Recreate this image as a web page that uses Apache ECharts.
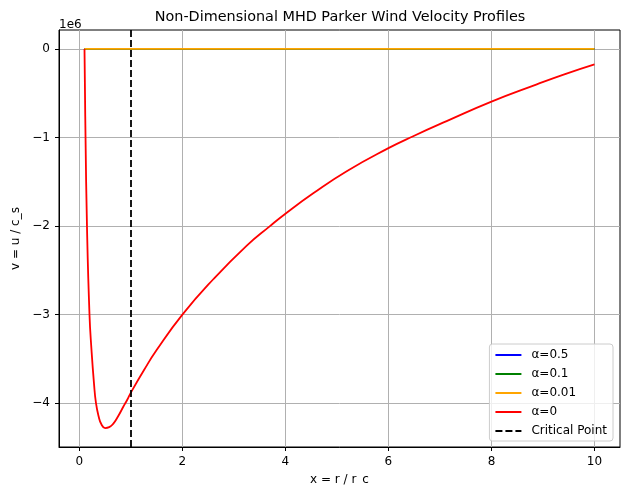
<!DOCTYPE html>
<html>
<head>
<meta charset="utf-8">
<script src="https://cdn.jsdelivr.net/npm/echarts@6/dist/echarts.min.js"></script>
<style>
 html, body { margin: 0; padding: 0; background: #fff; overflow: hidden; }
 #chart { width: 621px; height: 485px; }
</style>
</head>
<body>
<div id="chart"></div>
<script>
// velocities are in units of 1e6 (matches the "1e6" offset label)
var alphaX = [0.1, 10];
var alpha05 = [0, 0];
var alpha01 = [0, 0];
var alpha001 = [0, 0];

var redX = [0.1, 0.11, 0.12, 0.148, 0.197, 0.236, 0.284, 0.323, 0.375, 0.43, 0.5, 0.58, 0.66, 0.75, 0.853, 0.93,
 1.0, 1.25, 1.5, 2.0, 2.6, 3.25, 3.7, 4.0, 4.54, 5.19, 6.0, 6.48, 7.13, 8.0, 8.88, 9.4, 10.0];
var redV = [0, -0.52, -1.0, -2.0, -3.0, -3.4, -3.775, -4.0, -4.15, -4.24, -4.28, -4.27, -4.23, -4.15, -4.04, -3.96,
 -3.88, -3.63, -3.4, -3.0, -2.6, -2.22, -2.0, -1.86, -1.63, -1.38, -1.12, -0.985, -0.815, -0.595, -0.4, -0.29, -0.175];

var criticalX = 1;
var xTicks = [0, 2, 4, 6, 8, 10];
var yTicks = [0, -1, -2, -3, -4];

function pairs(xs, ys){
 var out = [];
 for(var i=0;i<xs.length;i++) out.push([xs[i], ys[i]]);
 return out;
}

var FONT = 'DejaVu Sans';
var myChart = echarts.init(document.getElementById('chart'), null, {renderer:'canvas'});

var option = {
 animation: false,
 backgroundColor: '#fff',
 textStyle: { fontFamily: FONT },
 grid: {
  left: 59, right: 1, top: 30, bottom: 38,
  outerBoundsMode: 'none', containLabel: false,
  show: true, borderColor: '#000', borderWidth: 1, backgroundColor: 'transparent'
 },
 graphic: [
  { type:'text', x: 340, y: 10, style:{ text:'Non-Dimensional MHD Parker Wind Velocity Profiles', font:'14.4px "DejaVu Sans"', fill:'#000', align:'center', verticalAlign:'top' } },
  { type:'text', x: 59, y: 19, style:{ text:'1e6', font:'12px "DejaVu Sans"', fill:'#000', align:'left', verticalAlign:'top' } }
 ],
 legend: {
  orient: 'vertical',
  right: 8, bottom: 44,
  padding: [5, 6, 4, 5],
  itemWidth: 26, itemHeight: 12, itemGap: 7,
  backgroundColor: 'rgba(255,255,255,0.8)',
  borderColor: '#cccccc', borderWidth: 1, borderRadius: 3,
  itemStyle: { opacity: 0 },
  textStyle: { fontFamily: FONT, fontSize: 12, color: '#000', padding: [0,0,0,5] },
  data: ['α=0.5', 'α=0.1', 'α=0.01', 'α=0', 'Critical Point']
 },
 xAxis: {
  type: 'value', min: -0.395, max: 10.495,
  name: 'x = r / r_c', nameLocation: 'middle', nameGap: 27,
  nameTextStyle: { fontFamily: FONT, fontSize: 12, color: '#000' },
  axisLine: { show: true, onZero: false, lineStyle: { color:'#000', width: 1 } },
  axisTick: { show: true, length: 4, lineStyle: { color:'#000', width: 1 }, customValues: xTicks },
  axisLabel: { fontSize: 12, color: '#000', margin: 9, customValues: xTicks },
  splitLine: { show: true, lineStyle: { color: '#b0b0b0', width: 1 } }
 },
 yAxis: {
  type: 'value', min: -4.494, max: 0.214,
  name: 'v = u / c_s', nameLocation: 'middle', nameGap: 33,
  nameTextStyle: { fontFamily: FONT, fontSize: 12, color: '#000' },
  axisLine: { show: true, onZero: false, lineStyle: { color:'#000', width: 1 } },
  axisTick: { show: true, length: 4, lineStyle: { color:'#000', width: 1 }, customValues: yTicks },
  axisLabel: { fontSize: 12, color: '#000', margin: 9, customValues: yTicks,
   formatter: function(v){ return v < 0 ? '\u2212' + (-v) : String(v); } },
  splitLine: { show: true, lineStyle: { color: '#b0b0b0', width: 1 } }
 },
 series: [
  { name:'α=0.5', type:'line', showSymbol:false, symbol:'none', data: pairs(alphaX, alpha05),
    lineStyle:{ color:'#0000ff', width:1.8 }, itemStyle:{ color:'#0000ff' } },
  { name:'α=0.1', type:'line', showSymbol:false, symbol:'none', data: pairs(alphaX, alpha01),
    lineStyle:{ color:'#008000', width:1.8 }, itemStyle:{ color:'#008000' } },
  { name:'α=0.01', type:'line', showSymbol:false, symbol:'none', data: pairs(alphaX, alpha001),
    lineStyle:{ color:'#ffa500', width:1.8 }, itemStyle:{ color:'#ffa500' } },
  { name:'α=0', type:'line', showSymbol:false, symbol:'none', data: pairs(redX, redV),
    smooth: 0.5,
    lineStyle:{ color:'#ff0000', width:1.8 }, itemStyle:{ color:'#ff0000' } },
  { name:'Critical Point', type:'line', showSymbol:false, symbol:'none', data: [],
    lineStyle:{ color:'#000', width:1.8, type:[7,3] }, itemStyle:{ color:'#000' },
    markLine: {
     silent: true, symbol: ['none','none'], label: { show:false },
     lineStyle: { color:'#000', width:1.8, type:[7,3] },
     data: [ { xAxis: criticalX } ]
    }
  }
 ]
};

myChart.setOption(option);
</script>
</body>
</html>
